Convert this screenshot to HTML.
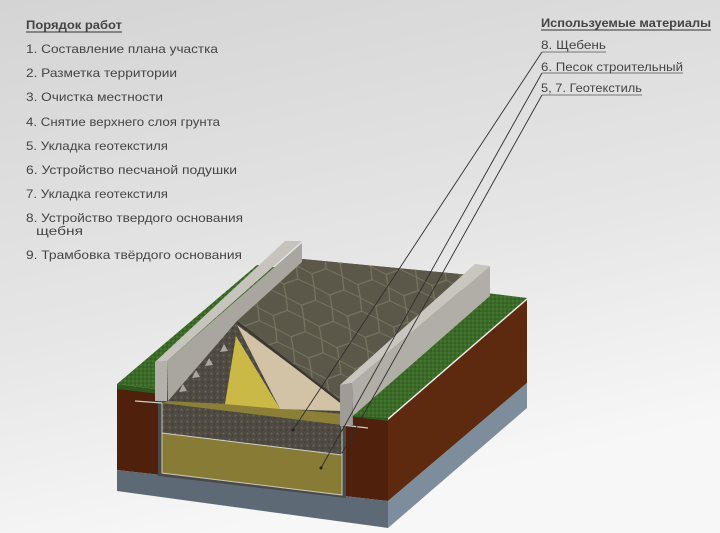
<!DOCTYPE html>
<html><head><meta charset="utf-8"><style>
html,body{margin:0;padding:0;width:720px;height:533px;overflow:hidden;}
svg{display:block;}
text{font-family:"Liberation Sans","DejaVu Sans",sans-serif;fill:#444;}
</style></head><body>
<svg width="720" height="533" viewBox="0 0 720 533" xmlns="http://www.w3.org/2000/svg">
<defs>
<linearGradient id="bg" x1="0" y1="0" x2="0.3" y2="1">
<stop offset="0" stop-color="#d4d4d4"/><stop offset="0.6" stop-color="#e6e6e6"/><stop offset="1" stop-color="#f7f7f7"/>
</linearGradient>
<pattern id="hex" width="30" height="26" patternUnits="userSpaceOnUse" patternTransform="rotate(-20) skewX(20)">
<path d="M0,13 L7,0 L22,0 L30,13 L22,26 L7,26 Z" fill="none" stroke="#8e8c74" stroke-width="1.1" opacity="0.55"/>
</pattern>
<pattern id="speck" width="6" height="6" patternUnits="userSpaceOnUse">
<rect width="6" height="6" fill="#4f4a42"/><circle cx="1.5" cy="1.5" r="1" fill="#6a645a"/><circle cx="4.5" cy="4" r="0.8" fill="#3a3630"/>
</pattern>
<pattern id="grass" width="4" height="4" patternUnits="userSpaceOnUse">
<rect width="4" height="4" fill="#3b6a28"/><circle cx="1" cy="1" r="0.8" fill="#4f8434"/><circle cx="3" cy="3" r="0.7" fill="#2c5220"/>
</pattern>
</defs>
<rect width="720" height="533" fill="url(#bg)"/>

<text x="26" y="29" font-size="12" font-weight="bold" fill="#333" textLength="96" lengthAdjust="spacingAndGlyphs">Порядок работ</text>
<line x1="26" y1="32" x2="122" y2="32" stroke="#333" stroke-width="1"/>
<g font-size="12">
<text x="26" y="53" textLength="192" lengthAdjust="spacingAndGlyphs">1. Составление плана участка</text>
<text x="26" y="77" textLength="151" lengthAdjust="spacingAndGlyphs">2. Разметка территории</text>
<text x="26" y="101" textLength="137" lengthAdjust="spacingAndGlyphs">3. Очистка местности</text>
<text x="26" y="126" textLength="194" lengthAdjust="spacingAndGlyphs">4. Снятие верхнего слоя грунта</text>
<text x="26" y="150" textLength="142" lengthAdjust="spacingAndGlyphs">5. Укладка геотекстиля</text>
<text x="26" y="174" textLength="211" lengthAdjust="spacingAndGlyphs">6. Устройство песчаной подушки</text>
<text x="26" y="198" textLength="142" lengthAdjust="spacingAndGlyphs">7. Укладка геотекстиля</text>
<text x="26" y="222" textLength="217" lengthAdjust="spacingAndGlyphs">8. Устройство твердого основания</text>
<text x="36" y="235" textLength="47" lengthAdjust="spacingAndGlyphs">щебня</text>
<text x="26" y="259" textLength="216" lengthAdjust="spacingAndGlyphs">9. Трамбовка твёрдого основания</text>
</g>

<text x="541" y="27" font-size="12" font-weight="bold" fill="#333" textLength="170" lengthAdjust="spacingAndGlyphs">Используемые материалы</text>
<line x1="541" y1="30" x2="711" y2="30" stroke="#333" stroke-width="1"/>
<g font-size="12">
<text x="541" y="49" textLength="65" lengthAdjust="spacingAndGlyphs">8. Щебень</text>
<line x1="542" y1="52" x2="606" y2="52" stroke="#555" stroke-width="0.8"/>
<text x="541" y="71" textLength="142" lengthAdjust="spacingAndGlyphs">6. Песок строительный</text>
<line x1="542" y1="73" x2="683" y2="73" stroke="#555" stroke-width="0.8"/>
<text x="541" y="92" textLength="101" lengthAdjust="spacingAndGlyphs">5, 7. Геотекстиль</text>
<line x1="542" y1="95" x2="642" y2="95" stroke="#555" stroke-width="0.8"/>
</g>

<polygon points="117,388 388,420 388,501 117,470" fill="#4f200c"/>
<polygon points="117,470 388,501 388,528 117,491" fill="#5d6a75"/>
<polygon points="388,420 527,300 527,383 388,501" fill="#5e2a0f"/>
<polygon points="388,501 527,383 527,408 388,528" fill="#7d8d9b"/>
<polygon points="117,384 257,265 527,298 388,418" fill="url(#grass)"/>
<polygon points="117,384 388,418 388,421 117,389" fill="#2e5a20"/>

<polygon points="160,402 292,258 470,275 345,426" fill="url(#speck)"/>

<polygon points="158,400 346,422 346,498 158,476" fill="#4a4a48"/>
<polygon points="162,403 342,425 342,455 162,433" fill="url(#speck)"/>
<polygon points="162,433 342,455 342,495 162,473" fill="#877b35"/>
<polygon points="225,403 342,414 342,425 162,403 168,401" fill="#8c8038"/>
<polyline points="162,403 162,473 342,495 342,425" fill="none" stroke="#c8c8c0" stroke-width="1"/>
<line x1="162" y1="433" x2="342" y2="455" stroke="#d0d0c8" stroke-width="1"/>
<polyline points="135,401 162,403" stroke="#cfcfc8" stroke-width="1.2" fill="none"/>
<polyline points="342,425 368,428" stroke="#cfcfc8" stroke-width="1.2" fill="none"/>

<polygon points="168,401 237,321 235,338 225,404" fill="url(#speck)"/>
<g fill="#a9a7a0">
<polygon points="179,392 183,384 187,391"/><polygon points="192,378 196,370 200,377"/>
<polygon points="205,366 209,358 213,365"/><polygon points="220,352 224,344 228,351"/>
</g>
<polygon points="236,336 280,409 225,404" fill="#cbb947"/>
<polygon points="237,325 342,403 342,411 280,409" fill="#d2c3a6"/>
<polygon points="237,321 292,258 470,275 342,401" fill="#5c5849"/>
<polygon points="237,321 292,258 470,275 342,401" fill="url(#hex)"/>
<line x1="237" y1="322" x2="342" y2="403" stroke="#3a3630" stroke-width="2.2"/>

<polygon points="167,361 302,243 302,262 237,321 168,401" fill="#a8a69e"/>
<polygon points="155,362 285,241 302,241 167,361" fill="#c6c4bc"/>
<polygon points="155,362 167,361 167,401 155,401" fill="#b3b1a9"/>
<polygon points="352,383 490,266 490,296 353,416" fill="#b0aea6"/>
<polygon points="340,385 475,264 490,266 352,383" fill="#c8c6be"/>
<polygon points="340,385 352,383 353,425 340,426" fill="#9e9c94"/>
<polygon points="353,416 490,296 527,298 388,418" fill="url(#grass)"/>

<g stroke="#2e2e2e" stroke-width="0.9" fill="none">
<line x1="542" y1="52" x2="293" y2="430"/>
<line x1="542" y1="73" x2="321" y2="468"/>
<line x1="542" y1="95" x2="342" y2="453"/>
</g>
<circle cx="293" cy="430" r="1.5" fill="#222"/>
<circle cx="321" cy="468" r="1.5" fill="#222"/>
</svg>
</body></html>
